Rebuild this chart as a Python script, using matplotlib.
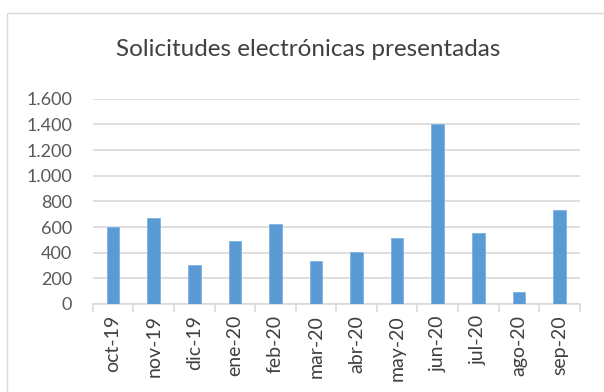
import matplotlib.pyplot as plt
from matplotlib.patches import Rectangle
from matplotlib.ticker import FuncFormatter, FixedLocator

meses = ["oct-19", "nov-19", "dic-19", "ene-20", "feb-20", "mar-20",
         "abr-20", "may-20", "jun-20", "jul-20", "ago-20", "sep-20"]
solicitudes = [602, 674, 306, 493, 622, 335, 402, 513, 1400, 555, 96, 729]
marcas_y = [0, 200, 400, 600, 800, 1000, 1200, 1400, 1600]

plt.rcParams['font.family'] = ['Lato', 'DejaVu Sans']

fig = plt.figure(figsize=(6.04, 3.92), dpi=100)
ax = fig.add_axes([92.8 / 604, 1 - 304 / 392, (579.7 - 92.8) / 604, (304 - 98.7) / 392])

# marco gris del gráfico
fig.patches.append(Rectangle((7 / 604, -0.1), 1.2, 1 - 13 / 392 + 0.1,
                             transform=fig.transFigure, fill=False,
                             edgecolor="#d9d9d9", linewidth=1))

x = range(len(meses))
ax.bar(x, solicitudes, width=0.31, color="#5b9bd5", edgecolor="#7fb2e0",
       linewidth=0.6, zorder=3)

ax.set_xlim(-0.5, len(meses) - 0.5)
ax.set_ylim(0, 1600)
ax.set_yticks(marcas_y)
ax.yaxis.set_major_formatter(FuncFormatter(lambda v, p: f"{int(v):,}".replace(",", ".")))
ax.grid(axis="y", color="#d9d9d9", linewidth=1.2, zorder=0)

ax.set_xticks(list(x))
ax.set_xticklabels(meses, rotation=90)
ax.xaxis.set_minor_locator(FixedLocator([i - 0.5 for i in range(len(meses) + 1)]))
ax.tick_params(axis="x", which="major", length=0, pad=8, labelsize=14, labelcolor="#404040")
ax.tick_params(axis="x", which="minor", length=6, color="#d9d9d9", width=1.2)
ax.tick_params(axis="y", length=0, pad=15, labelsize=13, labelcolor="#595959")

for lado in ["top", "right", "left"]:
    ax.spines[lado].set_visible(False)
ax.spines["bottom"].set_color("#d9d9d9")
ax.spines["bottom"].set_linewidth(1.2)

fig.text(308 / 604, 1 - 50 / 392, "Solicitudes electrónicas presentadas",
         ha="center", va="center", fontsize=17.5, color="#404040")

fig.savefig("out.png", dpi=100)
